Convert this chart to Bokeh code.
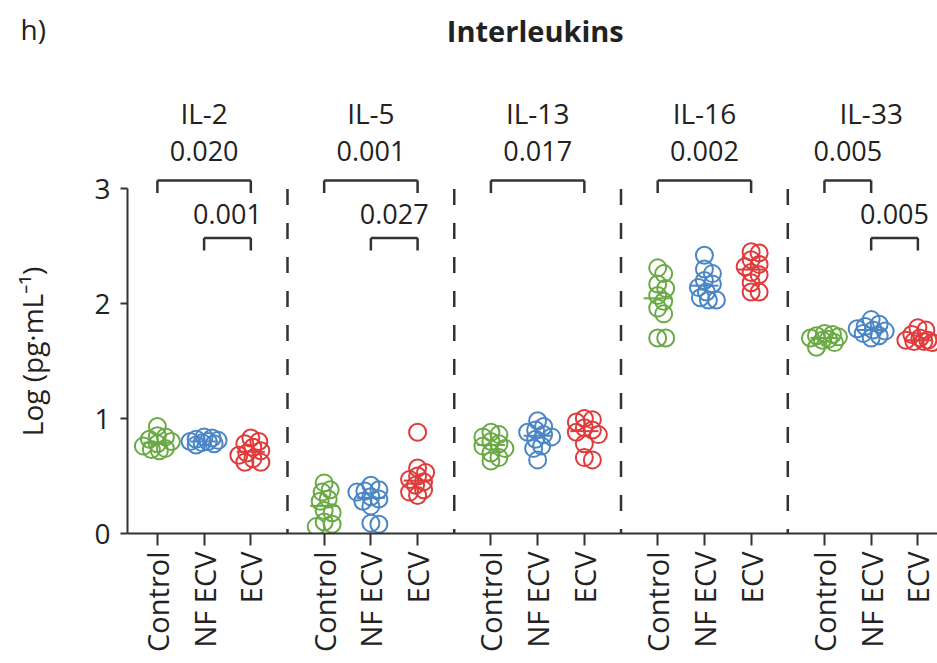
import numpy as np
from bokeh.plotting import figure
from bokeh.layouts import column
from bokeh.models import Range1d, FixedTicker
from bokeh.core.properties import value
from bokeh.embed import file_html
from bokeh.resources import INLINE

# ---------------- data ----------------
groups = ["IL-2", "IL-5", "IL-13", "IL-16", "IL-33"]
conditions = ["Control", "NF ECV", "ECV"]
colors = ["#6aaa45", "#4a86c5", "#e03b3b"]

il2_control = [0.93, 0.85, 0.84, 0.82, 0.80, 0.78, 0.76, 0.74, 0.73, 0.72]
il2_nfecv = [0.84, 0.83, 0.82, 0.81, 0.80, 0.80, 0.79, 0.78, 0.77]
il2_ecv = [0.83, 0.80, 0.78, 0.75, 0.72, 0.70, 0.68, 0.65, 0.62, 0.62]

il5_control = [0.44, 0.38, 0.36, 0.30, 0.28, 0.20, 0.18, 0.10, 0.08, 0.06]
il5_nfecv = [0.42, 0.38, 0.37, 0.36, 0.32, 0.30, 0.28, 0.24, 0.09, 0.08]
il5_ecv = [0.88, 0.57, 0.53, 0.50, 0.47, 0.45, 0.42, 0.38, 0.36, 0.33]

il13_control = [0.88, 0.86, 0.84, 0.80, 0.78, 0.76, 0.74, 0.70, 0.66, 0.63]
il13_nfecv = [0.98, 0.93, 0.90, 0.88, 0.86, 0.84, 0.82, 0.76, 0.74, 0.64]
il13_ecv = [1.00, 0.99, 0.97, 0.92, 0.90, 0.88, 0.86, 0.78, 0.66, 0.64]

il16_control = [2.31, 2.26, 2.17, 2.13, 2.07, 2.02, 1.96, 1.91, 1.70, 1.70]
il16_nfecv = [2.42, 2.30, 2.26, 2.20, 2.17, 2.14, 2.10, 2.05, 2.03, 2.03]
il16_ecv = [2.45, 2.44, 2.38, 2.34, 2.32, 2.27, 2.25, 2.18, 2.10, 2.10]

il33_control = [1.74, 1.73, 1.72, 1.71, 1.70, 1.69, 1.68, 1.66, 1.62]
il33_nfecv = [1.86, 1.82, 1.80, 1.78, 1.77, 1.76, 1.74, 1.72, 1.70]
il33_ecv = [1.79, 1.77, 1.73, 1.70, 1.68, 1.68, 1.67, 1.67, 1.66]

values = [
    [il2_control, il2_nfecv, il2_ecv],
    [il5_control, il5_nfecv, il5_ecv],
    [il13_control, il13_nfecv, il13_ecv],
    [il16_control, il16_nfecv, il16_ecv],
    [il33_control, il33_nfecv, il33_ecv],
]

# significance comparisons
comp_group = [0, 0, 1, 1, 2, 3, 4, 4]
comp_a = [0, 1, 0, 1, 0, 0, 0, 1]
comp_b = [2, 2, 2, 2, 2, 2, 1, 2]
comp_p = ["0.020", "0.001", "0.001", "0.027", "0.017", "0.002", "0.005", "0.005"]
comp_level = [0, 1, 0, 1, 0, 0, 0, 1]

y_ticks = [0, 1, 2, 3]

# ---------------- layout helpers ----------------
STRIDE = 3.57
PX_X = 46.7
PX_Y = 115.0
FONT = "Open Sans"
TXT = "#222222"
X0 = -0.64
X1 = 16.70
LEFT = 127
TOP_H = 169
W, H = 937, 663
BOTTOM = 130


def xpos(g, c):
    return g * STRIDE + c


def swarm(vals, min_d=8.0, step=2.0, max_off=14.0):
    order = np.argsort(vals)[::-1]
    placed = []
    offs = [0.0] * len(vals)
    cands = [0.0]
    k = 1
    while k * step <= max_off:
        cands += [k * step, -k * step]
        k += 1
    for i in order:
        best, best_d = 0.0, -1.0
        for c in cands:
            d = min([np.hypot(c - pc, (vals[i] - pv) * PX_Y) for pc, pv in placed] + [1e9])
            if d >= min_d:
                best = c
                break
            if d > best_d:
                best, best_d = c, d
        placed.append((best, vals[i]))
        offs[i] = best / PX_X
    return offs


y_top_main = (H - TOP_H - BOTTOM) / PX_Y
y_top_all = y_top_main + TOP_H / PX_Y

# ---------- top strip (titles, labels) ----------
top = figure(width=W, height=TOP_H,
             x_range=Range1d(X0 - LEFT / PX_X, X1), y_range=Range1d(y_top_main, y_top_all),
             output_backend="svg", toolbar_location=None,
             x_axis_location=None, y_axis_location=None,
             min_border_left=0, min_border_right=0, min_border_top=0, min_border_bottom=0)
top.outline_line_color = None
top.grid.visible = False
top.frame_align = False

# ---------- main plot ----------
p = figure(width=W, height=H - TOP_H, x_range=Range1d(X0, X1), y_range=Range1d(0, y_top_main),
           output_backend="svg", toolbar_location=None,
           min_border_left=LEFT, min_border_right=0, min_border_top=0, min_border_bottom=BOTTOM)
p.outline_line_color = None
p.grid.visible = False
p.frame_align = False

# separators
sep_x = [g * STRIDE + 2.785 for g in range(len(groups) - 1)]
p.segment(x0=sep_x, y0=[-0.1] * len(sep_x), x1=sep_x, y1=[3.0] * len(sep_x),
          line_color="#333333", line_width=2.5, line_dash="16 18")

# points and medians
for g in range(len(groups)):
    for c in range(len(conditions)):
        vals = values[g][c]
        offs = swarm(vals)
        xs = [xpos(g, c) + o for o in offs]
        p.scatter(x=xs, y=vals, size=17, marker="circle", fill_alpha=0,
                  line_color=colors[c], line_width=2)
        med = float(np.median(vals))
        p.segment(x0=[xpos(g, c) - 0.3], y0=[med], x1=[xpos(g, c) + 0.3], y1=[med],
                  line_color=colors[c], line_width=2)

# brackets
level_y = [3.07, 2.57]
text_off = [0.26, 0.21]
leg = 0.11
bx0, bx1, by, bly = [], [], [], []
txt = {0: ([], [], []), 1: ([], [], [])}
for g, a, b, lv, pv in zip(comp_group, comp_a, comp_b, comp_level, comp_p):
    x0 = xpos(g, a)
    x1 = xpos(g, b)
    y = level_y[lv]
    bx0 += [x0, x0, x1]
    bx1 += [x1, x0, x1]
    by += [y, y, y]
    bly += [y, y - leg, y - leg]
    txt[lv][0].append((x0 + x1) / 2)
    txt[lv][1].append(y + text_off[lv])
    txt[lv][2].append(pv)
p.segment(x0=bx0, y0=by, x1=bx1, y1=bly, line_color="#333333", line_width=2.5)
for fig, lv in [(top, 0), (p, 1)]:
    fig.text(x=txt[lv][0], y=txt[lv][1], text=txt[lv][2], text_font=value(FONT),
             text_font_size="27px", text_align="center", text_baseline="middle", text_color=TXT)

# group labels
top.text(x=[xpos(g, 1) for g in range(len(groups))], y=[3.66] * len(groups), text=groups,
         text_font=value(FONT), text_font_size="28px", text_align="center",
         text_baseline="middle", text_color=TXT)

# title and panel letter
top.text(x=[8.09], y=[4.37], text=["Interleukins"], text_font=value(FONT), text_font_size="29px",
         text_font_style="bold", text_align="center", text_baseline="middle", text_color=TXT)
top.text(x=[X0 - (LEFT - 20) / PX_X], y=[4.39], text=["h)"], text_font=value(FONT),
         text_font_size="28px", text_align="left", text_baseline="middle", text_color=TXT)

# axes
tick_pos = [xpos(g, c) for g in range(len(groups)) for c in range(len(conditions))]
tick_lab = [conditions[c] for g in range(len(groups)) for c in range(len(conditions))]
p.xaxis.ticker = FixedTicker(ticks=tick_pos)
p.xaxis.major_label_overrides = {t: l for t, l in zip(tick_pos, tick_lab)}
p.xaxis.major_label_orientation = np.pi / 2
p.xaxis.minor_tick_line_color = None
p.xaxis.major_tick_in = 0
p.xaxis.major_tick_out = 12
p.xaxis.major_label_standoff = 6

p.yaxis.ticker = FixedTicker(ticks=y_ticks)
p.yaxis.bounds = (0, 3)
p.yaxis.minor_tick_line_color = None
p.yaxis.major_tick_in = 0
p.yaxis.major_tick_out = 7
p.yaxis.major_label_standoff = 10
p.yaxis.axis_label = "Log (pg·mL⁻¹)"
p.yaxis.axis_label_standoff = 40
p.yaxis.axis_label_text_font_style = "normal"

for ax in [p.xaxis, p.yaxis]:
    ax.axis_line_color = "#333333"
    ax.axis_line_width = 2
    ax.major_tick_line_color = "#333333"
    ax.major_tick_line_width = 2
    ax.major_label_text_font = FONT
    ax.major_label_text_font_size = "28px"
    ax.major_label_text_color = TXT
    ax.axis_label_text_font = FONT
    ax.axis_label_text_font_size = "28px"
    ax.axis_label_text_color = TXT
p.xaxis.major_label_text_font_size = "29px"

layout = column(top, p, spacing=0)
open("out.html", "w").write(file_html(layout, INLINE))
